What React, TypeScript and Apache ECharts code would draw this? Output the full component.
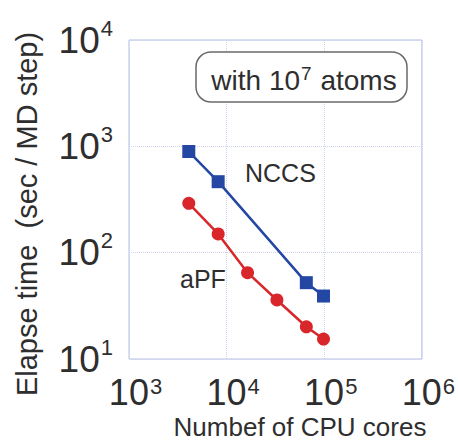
import React, { useEffect, useRef } from "react";
import * as echarts from "echarts";

const nccsCores = [4096, 8192, 65536, 98304];
const nccsTime = [894, 465, 52.2, 39.1];
const apfCores = [4096, 8192, 16384, 32768, 65536, 98304];
const apfTime = [291, 150, 64.9, 35.9, 20.1, 15.4];
const xRange = [1e3, 1e6];
const yRange = [1e1, 1e4];

const SANS = "'Liberation Sans', Arial, sans-serif";
const TXT = "#2e2e2e";
const BLUE = "#2347a3";
const RED = "#d8262a";

const supLabel = (v: number) => `{p|}{b|10}{s|${Math.round(Math.log10(v))}}`;
const supLabelY = (v: number) => `{b|10}{s|${Math.round(Math.log10(v))}}`;

export default function App() {
  const ref = useRef<HTMLDivElement>(null);
  useEffect(() => {
    if (!ref.current) return;
    const chart = echarts.init(ref.current, undefined, { renderer: "svg" });
    const richX = {
      b: { fontSize: 36, fontFamily: SANS, color: TXT, lineHeight: 34 },
      s: { fontSize: 22, fontFamily: SANS, color: TXT, verticalAlign: "top" as const, lineHeight: 20, padding: [0, 0, 0, 1] },
      p: { width: 13 },
    };
    const richY = {
      b: { fontSize: 37, fontFamily: SANS, color: TXT, lineHeight: 46 },
      s: { fontSize: 22, fontFamily: SANS, color: TXT, verticalAlign: "top" as const, lineHeight: 22, padding: [0, 0, 0, 1] },
    };
    chart.setOption({
      animation: false,
      backgroundColor: "#ffffff",
      grid: { left: 129, right: 29, top: 40, bottom: 82, show: true, borderColor: "#b3bce2", borderWidth: 1 },
      xAxis: {
        type: "log",
        logBase: 10,
        min: xRange[0],
        max: xRange[1],
        axisLine: { show: false },
        axisTick: { show: false },
        splitLine: { show: true, lineStyle: { color: "#cdd4ef", type: "dotted", width: 1 } },
        axisLabel: { margin: 16, formatter: supLabel, rich: richX, color: TXT },
      },
      yAxis: {
        type: "log",
        logBase: 10,
        min: yRange[0],
        max: yRange[1],
        axisLine: { show: false },
        axisTick: { show: false },
        splitLine: { show: true, lineStyle: { color: "#cdd4ef", type: "dotted", width: 1 } },
        axisLabel: { margin: 16, formatter: supLabelY, rich: richY, color: TXT },
      },
      series: [
        {
          name: "NCCS",
          type: "line",
          data: nccsCores.map((c, i) => [c, nccsTime[i]]),
          symbol: "rect",
          symbolSize: 13,
          lineStyle: { color: BLUE, width: 2.5 },
          itemStyle: { color: BLUE },
          z: 3,
        },
        {
          name: "aPF",
          type: "line",
          data: apfCores.map((c, i) => [c, apfTime[i]]),
          symbol: "circle",
          symbolSize: 13,
          lineStyle: { color: RED, width: 2.5 },
          itemStyle: { color: RED },
          z: 3,
        },
      ],
      graphic: [
        {
          type: "rect",
          shape: { x: 196, y: 52, width: 211, height: 50, r: 15 },
          style: { fill: "#ffffff", stroke: "#6a6a6a", lineWidth: 1.5 },
          z: 10,
        },
        {
          type: "text",
          x: 304,
          y: 80,
          z: 11,
          style: {
            text: "{a|with 10}{s|7}{a| atoms}",
            align: "center",
            verticalAlign: "middle",
            rich: {
              a: { fontSize: 28, fontFamily: SANS, fill: TXT, lineHeight: 32 },
              s: { fontSize: 19, fontFamily: SANS, fill: TXT, verticalAlign: "top", lineHeight: 18, padding: [0, 1, 0, 1] },
            },
          },
        },
        {
          type: "text",
          x: 245,
          y: 173,
          z: 11,
          style: { text: "NCCS", fontSize: 25, fontFamily: SANS, fill: TXT, align: "left", verticalAlign: "middle" },
        },
        {
          type: "text",
          x: 180,
          y: 279,
          z: 11,
          style: { text: "aPF", fontSize: 25, fontFamily: SANS, fill: TXT, align: "left", verticalAlign: "middle" },
        },
        {
          type: "text",
          x: 300,
          y: 427,
          style: { text: "Numbef of CPU cores", fontSize: 26, lineHeight: 24, fontFamily: SANS, fill: TXT, align: "center", verticalAlign: "middle" },
        },
        {
          type: "text",
          x: 27,
          y: 214,
          rotation: Math.PI / 2,
          style: { text: "Elapse time  (sec / MD step)", fontSize: 29, fontFamily: SANS, fill: TXT, align: "center", verticalAlign: "middle" },
        },
      ],
    });
    return () => chart.dispose();
  }, []);
  return (
    <div
      ref={ref}
      style={{ position: "fixed", left: 0, top: 0, width: 458, height: 441, background: "#fff" }}
    />
  );
}
